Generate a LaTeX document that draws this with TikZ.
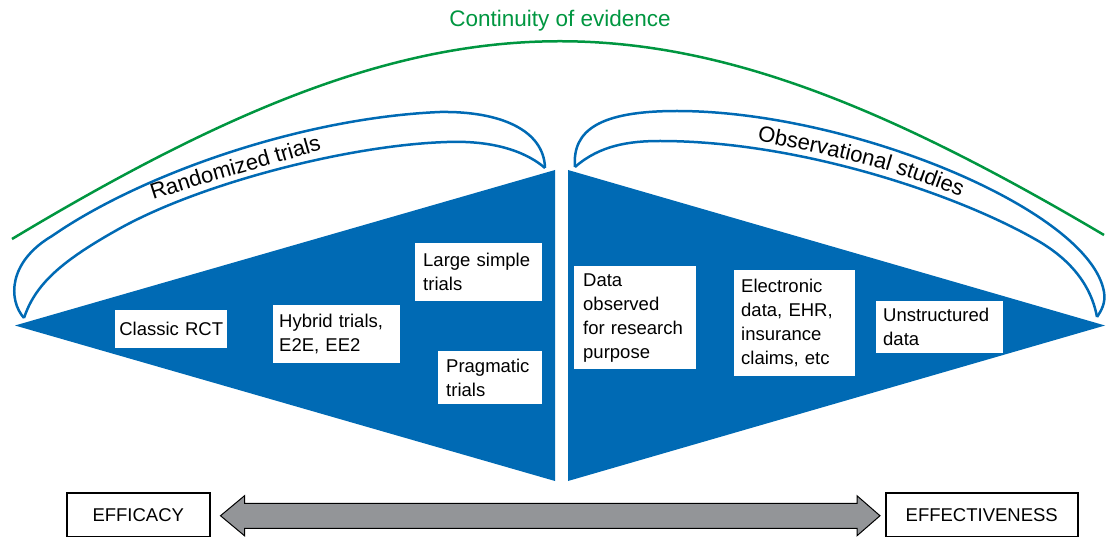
\documentclass[tikz,border=0pt]{standalone}
\usepackage{fontspec}
\setmainfont{Liberation Sans}
\usetikzlibrary{decorations.text,calc}
\definecolor{tblue}{RGB}{0,106,180}
\definecolor{tgreen}{RGB}{0,150,64}
\definecolor{tgray}{RGB}{147,149,152}
\newcommand\arcfont{\fontsize{22}{26}\selectfont}
\begin{document}
\begin{tikzpicture}[x=1pt,y=-1pt,
  tri/.style={fill=tblue,draw=none},
  lobe/.style={draw=tblue,line width=2.5pt,line join=round},
  arcline/.style={draw=tgreen,line width=2.5pt},
  lbl/.style={fill=white,inner ysep=0pt,anchor=north west,align=left,font=\fontsize{18.5}{24}\selectfont},
  endbox/.style={draw=black,line width=1.5pt,fill=white,inner sep=0pt,anchor=north west,align=center,font=\fontsize{18.5}{22}\selectfont},
  dblarrow/.style={fill=tgray,draw=black,line width=1pt,line join=miter}]
\useasboundingbox (0,0) rectangle (1106,537);

% green arc and title
\draw[arcline] (12,239) .. controls (450,-24) and (666,-24) .. (1104,235);
\node[font=\fontsize{22.5}{27}\selectfont, text=tgreen, anchor=base, inner sep=0pt] (cont) at (560,27) {Continuity of evidence};

% triangles
\fill[tri] (15,325.5) -- (555,170) -- (555,481) -- cycle;
\fill[tri] (568,170) -- (1105,325.5) -- (568,481) -- cycle;

% left lobe
\coordinate (LA) at (24,318);
\coordinate (LB) at (545,168);
\draw[lobe] (LA) .. controls (8,300) and (8,262) .. (52,236)
  .. controls (140,175) and (300,118) .. (440,112)
  .. controls (500,111) and (544,130) .. (LB);
\draw[lobe] (LA) .. controls (35,285) and (60,262) .. (117,230)
  .. controls (200,183) and (350,145) .. (447,142)
  .. controls (500,140) and (530,155) .. (LB);

% right lobe
\coordinate (RA) at (575,167);
\coordinate (RB) at (1097,317);
\draw[lobe] (RA) .. controls (572,130) and (600,111) .. (677,111)
  .. controls (850,111) and (1090,210) .. (1104,292)
  .. controls (1106,303) and (1101,311) .. (RB);
\draw[lobe] (RA) .. controls (600,145) and (630,141) .. (660,141)
  .. controls (800,141) and (960,195) .. (1040,242)
  .. controls (1080,266) and (1093,295) .. (RB);

% curved labels
\path[decorate,decoration={text along path,text align=left,text={|\arcfont|Randomized trials}}]
  plot[smooth] coordinates {(153,200) (210,182) (270,165) (330,148) (400,133) (440,128)};
\path[decorate,decoration={text along path,text align=left,text={|\arcfont|Observational studies}}]
  plot[smooth] coordinates {(757,141) (830,156) (895,173) (975,203) (1030,235)};

% labels in triangles
\node[lbl,align=center,inner xsep=3pt,text width=106pt,minimum height=38pt] (rct) at (115,310) {Classic RCT};
\node[lbl,inner xsep=6pt,text width=115pt,minimum height=58pt] (hyb) at (273,305) {Hybrid trials,\\E2E, EE2};
\node[lbl,inner xsep=8pt,text width=111pt,minimum height=58pt] (lst) at (415,243) {Large simple\\trials};
\node[lbl,inner xsep=8pt,text width=88pt,minimum height=53pt] (prag) at (438,351) {Pragmatic\\trials};
\node[lbl,inner xsep=9pt,text width=104pt,minimum height=103pt] (obs) at (574,266) {Data\\observed\\for research\\purpose};
\node[lbl,inner xsep=7pt,text width=107pt,minimum height=106pt] (ehr) at (734,270) {Electronic\\data, EHR,\\insurance\\claims, etc};
\node[lbl,inner xsep=7pt,text width=113pt,minimum height=52pt] (uns) at (876,301) {Unstructured\\data};

% bottom boxes
\node[endbox,minimum width=143pt,minimum height=44pt] (eff) at (66,492) {EFFICACY};
\node[endbox,minimum width=192pt,minimum height=44pt] (effv) at (885,492) {EFFECTIVENESS};

% double arrow
\coordinate (aL) at ([xshift=10pt,yshift=-1pt]eff.east);
\coordinate (aR) at ([xshift=-5pt,yshift=-1pt]effv.west);
\draw[dblarrow] (aL) -- ($(aL)+(24,-20)$) -- ($(aL)+(24,-12.5)$) -- ($(aR)+(-23,-12.5)$) -- ($(aR)+(-23,-20)$) -- (aR)
  -- ($(aR)+(-23,20)$) -- ($(aR)+(-23,12.5)$) -- ($(aL)+(24,12.5)$) -- ($(aL)+(24,20)$) -- cycle;
\end{tikzpicture}
\end{document}
